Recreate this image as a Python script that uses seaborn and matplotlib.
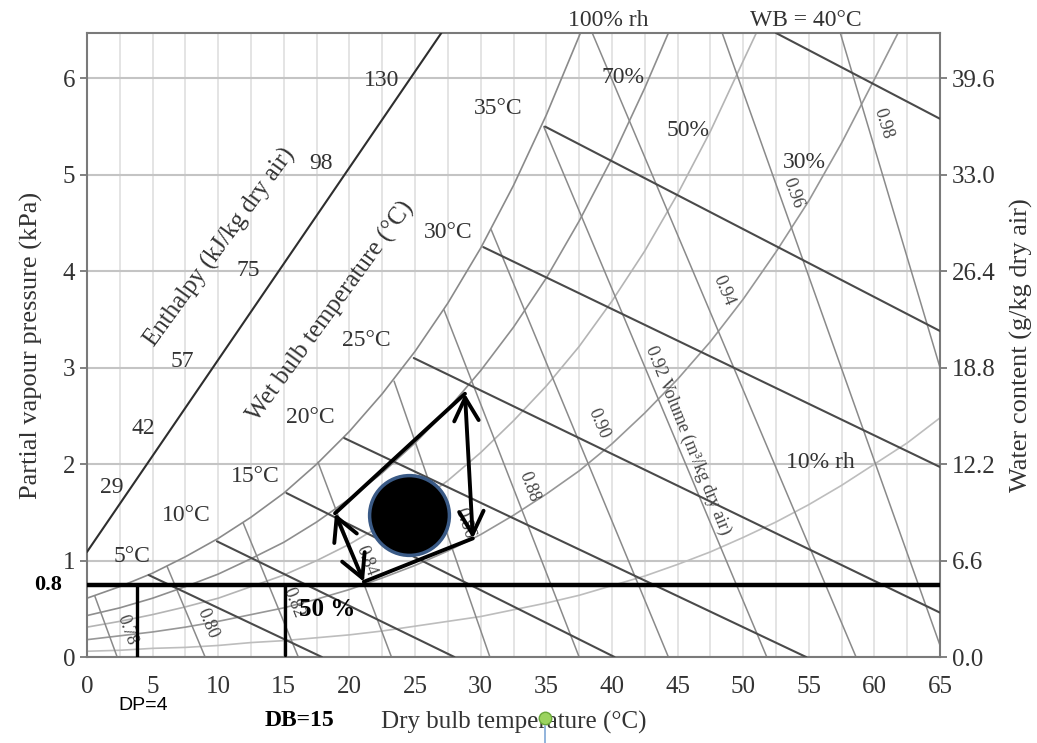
import numpy as np
import pandas as pd
import matplotlib.pyplot as plt
from matplotlib.ticker import MultipleLocator
import seaborn as sns

sns.set_theme(style="white")
plt.rcParams['font.family'] = ['Liberation Serif', 'DejaVu Serif']

# ---- data (dry bulb in degC, vapour pressure in kPa) ----
rh100_t = [0, 2.5, 5, 7.5, 10, 12.5, 15, 17.5, 20, 22.5, 25, 27.5, 30, 32.5, 35, 37.6]
rh100_p = [0.61, 0.73, 0.87, 1.04, 1.23, 1.45, 1.70, 2.00, 2.34, 2.73, 3.17, 3.67, 4.24, 4.89, 5.62, 6.47]
rh70_t = [0, 2.5, 5, 7.5, 10, 12.5, 15, 17.5, 20, 22.5, 25, 27.5, 30, 32.5, 35, 37.5, 40, 42.5, 44.3]
rh70_p = [0.43, 0.51, 0.61, 0.73, 0.86, 1.02, 1.19, 1.40, 1.64, 1.91, 2.22, 2.57, 2.97, 3.42, 3.93,
          4.52, 5.17, 5.90, 6.47]
rh50_t = [0, 2.5, 5, 7.5, 10, 12.5, 15, 17.5, 20, 22.5, 25, 27.5, 30, 32.5, 35, 37.5, 40, 42.5, 45,
          47.5, 50, 51.0]
rh50_p = [0.31, 0.37, 0.44, 0.52, 0.61, 0.73, 0.85, 1.00, 1.17, 1.37, 1.58, 1.83, 2.12, 2.45, 2.81,
          3.22, 3.69, 4.21, 4.80, 5.45, 6.18, 6.47]
rh30_t = [0, 2.5, 5, 7.5, 10, 12.5, 15, 17.5, 20, 22.5, 25, 27.5, 30, 32.5, 35, 37.5, 40, 42.5, 45,
          47.5, 50, 52.5, 55, 57.5, 60, 61.8]
rh30_p = [0.18, 0.22, 0.26, 0.31, 0.37, 0.44, 0.51, 0.60, 0.70, 0.82, 0.95, 1.10, 1.27, 1.47, 1.69,
          1.93, 2.21, 2.53, 2.88, 3.27, 3.71, 4.20, 4.73, 5.33, 5.99, 6.47]
rh10_t = [0, 2.5, 5, 7.5, 10, 12.5, 15, 17.5, 20, 22.5, 25, 27.5, 30, 32.5, 35, 37.5, 40, 42.5, 45,
          47.5, 50, 52.5, 55, 57.5, 60, 62.5, 65]
rh10_p = [0.06, 0.07, 0.09, 0.10, 0.12, 0.15, 0.17, 0.20, 0.23, 0.27, 0.32, 0.37, 0.42, 0.49, 0.56,
          0.64, 0.74, 0.84, 0.96, 1.09, 1.24, 1.40, 1.58, 1.78, 2.00, 2.22, 2.48]

# wet bulb lines: start / end points
wb_names = ["5", "10", "15", "20", "25", "30", "35", "40"]
wb_t0 = [4.7, 9.9, 15.2, 19.6, 24.9, 30.2, 34.9, 52.5]
wb_p0 = [0.85, 1.20, 1.70, 2.27, 3.10, 4.25, 5.50, 6.47]
wb_t1 = [17.9, 28.0, 40.2, 54.8, 65, 65, 65, 65]
wb_p1 = [0, 0, 0, 0, 0.46, 1.97, 3.38, 5.58]

# specific volume lines: start / end points
vol_names = ["0.78", "0.80", "0.82", "0.84", "0.86", "0.88", "0.90", "0.92", "0.94", "0.96", "0.98"]
vol_t0 = [0.6, 6.1, 11.9, 17.6, 23.4, 27.2, 30.8, 34.8, 38.5, 48.4, 57.4]
vol_p0 = [0.63, 0.94, 1.39, 2.02, 2.86, 3.60, 4.43, 5.50, 6.47, 6.47, 6.47]
vol_t1 = [2.3, 9.0, 16.1, 23.2, 30.7, 37.5, 44.3, 51.8, 58.6, 65, 65]
vol_p1 = [0, 0, 0, 0, 0, 0, 0, 0, 0, 0.12, 3.0]
vol_lab_t = [3.05, 9.2, 15.7, 21.3, 28.8, 33.7, 39.0, 45.8, 48.5, 53.8, 60.7]
vol_lab_p = [0.28, 0.35, 0.56, 1.00, 1.39, 1.76, 2.42, 2.25, 3.80, 4.81, 5.53]
vol_lab_rot = [-70, -67, -68, -69, -71, -69, -67, -68, -67, -70, -73]

# enthalpy line and its labels
enth_t = [0, 27.0]
enth_p = [1.09, 6.47]
enth_labels = ["29", "42", "57", "75", "98", "130"]
enth_lab_t = [1.9, 4.3, 7.3, 12.3, 17.8, 22.45]
enth_lab_p = [1.76, 2.37, 3.06, 4.01, 5.12, 5.98]

wb_lab = ["5°C", "10°C", "15°C", "20°C", "25°C", "30°C", "35°C"]
wb_lab_t = [3.4, 7.6, 12.8, 17.0, 21.3, 27.5, 31.3]
wb_lab_p = [1.04, 1.47, 1.87, 2.48, 3.28, 4.40, 5.69]

rh_lab = ["70%", "50%", "30%", "10% rh"]
rh_lab_t = [40.85, 45.8, 54.65, 55.9]
rh_lab_p = [6.01, 5.46, 5.13, 2.02]

x_ticks = list(range(0, 70, 5))
y_ticks = [0, 1, 2, 3, 4, 5, 6]
water_labels = ["0.0", "6.6", "12.2", "18.8", "26.4", "33.0", "39.6"]

# hand-drawn overlay: process polygon, state point, dew point / dry bulb markers
poly_t = {"A": 28.8, "B": 18.9, "C": 21.1, "D": 29.4}
poly_p = {"A": 2.73, "B": 1.49, "C": 0.78, "D": 1.23}
state_t = [24.5]
state_p = [1.47]
pv_line = 0.75
dp_t = 3.8
db_t = 15.1
pin_t = [34.9]
pin_p = [-0.63]

fig, ax = plt.subplots(figsize=(10.37, 7.43), dpi=100)
fig.subplots_adjust(left=0.0839, right=0.9065, top=0.9556, bottom=0.1157)

def line(t, p, color, lw, z=2):
    sns.lineplot(x=t, y=p, ax=ax, color=color, linewidth=lw, sort=False,
                 estimator=None, legend=False, zorder=z)

# grid
ax.set_xlim(0, 65)
ax.set_ylim(0, 6.47)
ax.xaxis.set_minor_locator(MultipleLocator(2.5))
ax.grid(which="both", axis="x", color="#dcdcdc", linewidth=1.1)
ax.grid(which="major", axis="y", color="#c4c4c4", linewidth=1.5)
ax.set_axisbelow(True)

# rh curves
line(rh100_t, rh100_p, "#8a8a8a", 1.2)
line(rh70_t, rh70_p, "#8e8e8e", 1.2)
line(rh50_t, rh50_p, "#b4b4b4", 1.2)
line(rh30_t, rh30_p, "#979797", 1.2)
line(rh10_t, rh10_p, "#bdbdbd", 1.2)

# volume lines
for i in range(len(vol_names)):
    line([vol_t0[i], vol_t1[i]], [vol_p0[i], vol_p1[i]], "#8a8a8a", 1.1)
    txt = vol_names[i]
    if txt == "0.92":
        txt = "0.92 Volume (m³/kg dry air)"
    ax.text(vol_lab_t[i], vol_lab_p[i], txt, rotation=vol_lab_rot[i], ha="center",
            va="center", fontsize=13, color="#444444", rotation_mode="anchor", zorder=3)

# wet bulb lines
for i in range(len(wb_names)):
    line([wb_t0[i], wb_t1[i]], [wb_p0[i], wb_p1[i]], "#4a4a4a", 1.5, z=3)

# enthalpy
line(enth_t, enth_p, "#2e2e2e", 1.5, z=3)
for s, t, p in zip(enth_labels, enth_lab_t, enth_lab_p):
    ax.text(t, p, s, ha="center", va="center", fontsize=17, color="#333333")
ax.text(10.1, 4.25, "Enthalpy (kJ/kg dry air)", rotation=54, ha="center", va="center",
        fontsize=18, color="#333333", rotation_mode="anchor")
ax.text(18.6, 3.58, "Wet bulb temperature (°C)", rotation=54, ha="center", va="center",
        fontsize=18, color="#333333", rotation_mode="anchor")

for s, t, p in zip(wb_lab, wb_lab_t, wb_lab_p):
    ax.text(t, p, s, ha="center", va="center", fontsize=17, color="#333333")
for s, t, p in zip(rh_lab, rh_lab_t, rh_lab_p):
    ax.text(t, p, s, ha="center", va="center", fontsize=17, color="#333333")
ax.text(39.7, 6.60, "100% rh", ha="center", va="center", fontsize=17, color="#333333", clip_on=False)
ax.text(54.8, 6.60, "WB = 40°C", ha="center", va="center", fontsize=17, color="#333333", clip_on=False)

# overlay drawing
ax.plot([0, 65], [pv_line, pv_line], color="black", linewidth=3.2, zorder=5, solid_capstyle="butt")
ax.plot([dp_t, dp_t], [0.0, pv_line], color="black", linewidth=2.4, zorder=5)
ax.plot([db_t, db_t], [0.02, pv_line], color="black", linewidth=2.4, zorder=5)
ax.text(-2.97, pv_line, "0.8", ha="center", va="center", fontsize=16, fontweight="bold",
        color="black", clip_on=False)
ax.text(18.3, 0.49, "50 %", ha="center", va="center", fontsize=18, fontweight="bold", color="black", zorder=6)
ax.text(4.27, -0.50, "DP=4", ha="center", va="center", fontsize=14, family="Liberation Sans",
        color="black", clip_on=False)
ax.text(16.2, -0.66, "DB=15", ha="center", va="center", fontsize=17, fontweight="bold",
        color="black", clip_on=False)

ax.plot([poly_t["B"], poly_t["A"]], [poly_p["B"], poly_p["A"]], color="black", lw=2.8, zorder=6)
ax.plot([poly_t["C"], poly_t["D"]], [poly_p["C"], poly_p["D"]], color="black", lw=2.8, zorder=6)
arrow = dict(arrowstyle="<->,head_length=0.75,head_width=0.4", lw=2.8, color="black",
             shrinkA=0, shrinkB=0, mutation_scale=22)
ax.annotate("", xy=(poly_t["A"], poly_p["A"]), xytext=(poly_t["D"], poly_p["D"]), arrowprops=arrow, zorder=6)
ax.annotate("", xy=(poly_t["B"], poly_p["B"]), xytext=(poly_t["C"], poly_p["C"]), arrowprops=arrow, zorder=6)
sns.scatterplot(x=state_t, y=state_p, ax=ax, s=3300, color="black", edgecolor="#3a5a86",
                linewidth=2.5, zorder=7, legend=False)

# axes styling
ax.set_xticks(x_ticks)
ax.set_yticks(y_ticks)
ax.set_yticklabels([str(v) for v in y_ticks])
ax.tick_params(axis="both", which="major", length=5, width=1.3, color="#777777",
               labelsize=18, labelcolor="#333333", direction="out")
ax.tick_params(which="minor", length=0)
ax.tick_params(axis="x", pad=9)
for sp in ax.spines.values():
    sp.set_color("#7a7a7a")
    sp.set_linewidth(1.5)
ax.set_xlabel("Dry bulb temperature (°C)", fontsize=18, color="#333333", labelpad=9)
ax.set_ylabel("Partial vapour pressure (kPa)", fontsize=19, color="#333333", labelpad=14)

ax2 = ax.twinx()
ax2.set_ylim(ax.get_ylim())
ax2.set_yticks(y_ticks)
ax2.set_yticklabels(water_labels)
ax2.tick_params(axis="y", length=5, width=1.3, color="#777777", labelsize=18,
                labelcolor="#333333", direction="out")
ax2.grid(False)
for sp in ax2.spines.values():
    sp.set_visible(False)
ax2.set_ylabel("Water content (g/kg dry air)", fontsize=19, color="#333333", labelpad=10)

# the little green pin over the axis title
ax.plot(pin_t, pin_p, marker="o", markersize=9, color="#9bd35f", markeredgecolor="#6aa83a",
        clip_on=False, zorder=8)
ax.plot([pin_t[0], pin_t[0]], [pin_p[0] - 0.08, -0.9], color="#7fa7d6", lw=1.2, clip_on=False, zorder=8)

fig.savefig("out.png", dpi=100)
